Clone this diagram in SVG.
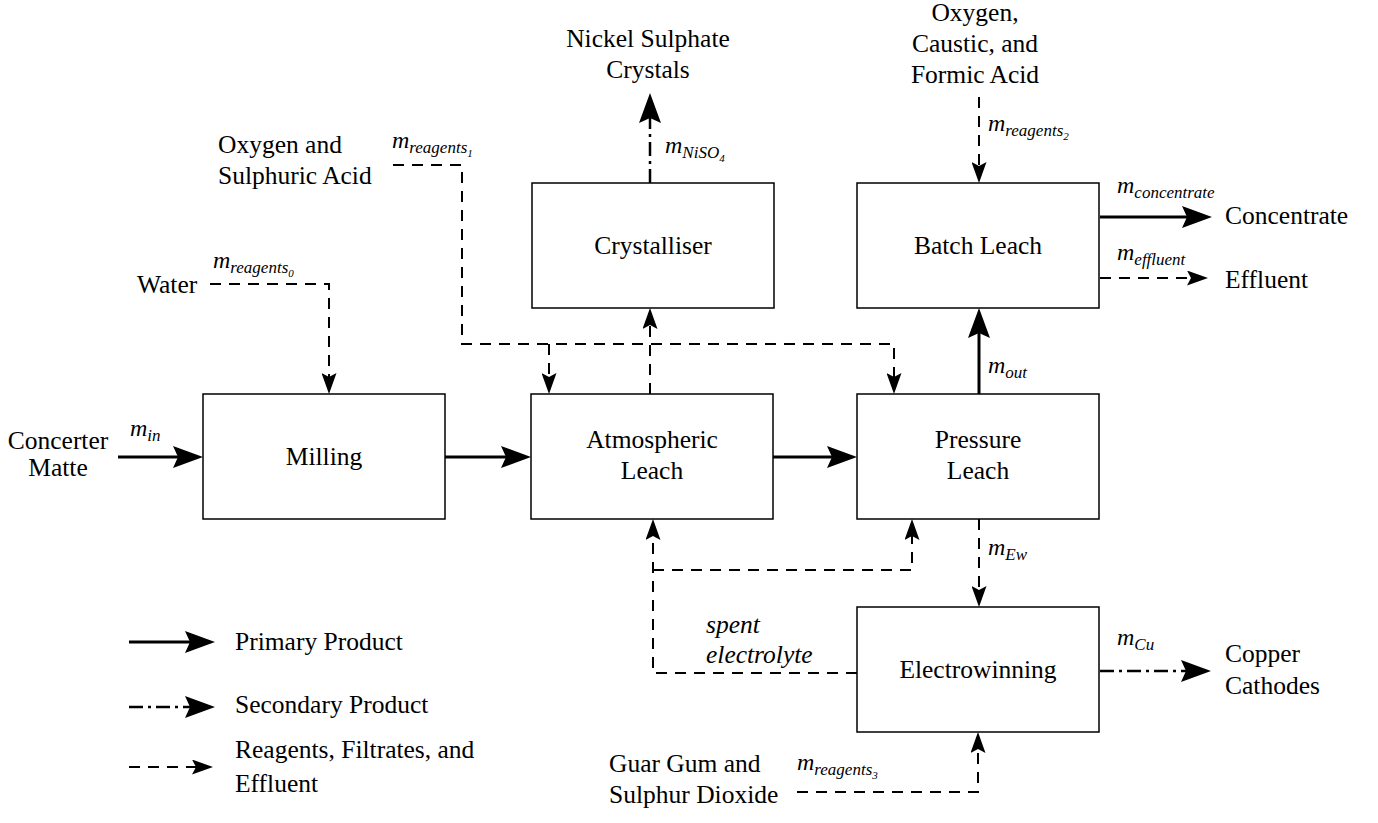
<svg xmlns="http://www.w3.org/2000/svg" width="1378" height="823" viewBox="0 0 1378 823" font-family="'Liberation Serif', 'DejaVu Serif', serif">
<defs>
<style>
text{font-family:'Liberation Serif','DejaVu Serif',serif;fill:#000}
.t{font-size:25.5px}
.c{text-anchor:middle}
.m{font-size:24px;font-style:italic}
.s{font-size:17px}
.ss{font-size:11px}
.box{fill:#fff;stroke:#000;stroke-width:1.5}
.p{fill:none;stroke:#000;stroke-width:3}
.sd{fill:none;stroke:#000;stroke-width:2.5;stroke-dasharray:14 5 3 5}
.d{fill:none;stroke:#000;stroke-width:2;stroke-dasharray:11 8}
</style>
<marker id="ah" markerUnits="userSpaceOnUse" viewBox="0 0 30 22" refX="5" refY="11" markerWidth="30" markerHeight="22" orient="auto">
<path d="M0,0 L30,11 L0,22 L5,11 Z" fill="#000"/>
</marker>
<marker id="ahs" markerUnits="userSpaceOnUse" viewBox="0 0 21 15" refX="4" refY="7.5" markerWidth="21" markerHeight="15" orient="auto">
<path d="M0,0 L21,7.5 L0,15 L4,7.5 Z" fill="#000"/>
</marker>
</defs>
<rect width="1378" height="823" fill="#fff"/>

<g id="connectors">
<path class="p" d="M118,457 H178" marker-end="url(#ah)"/>
<path class="p" d="M445,457 H506" marker-end="url(#ah)"/>
<path class="p" d="M773,457 H832" marker-end="url(#ah)"/>
<path class="p" d="M979,394 V333" marker-end="url(#ah)"/>
<path class="p" d="M1100,217 H1187" marker-end="url(#ah)"/>
<path class="sd" d="M650,183 V118" marker-end="url(#ah)"/>
<path class="sd" d="M1100,671 H1186" marker-end="url(#ah)"/>
<path class="d" d="M210,284 H329 V377" marker-end="url(#ahs)"/>
<path class="d" d="M393,165 H462 V344 H894 V377" marker-end="url(#ahs)"/>
<path class="d" d="M549,344 V377" marker-end="url(#ahs)"/>
<path class="d" d="M650,394 V325" marker-end="url(#ahs)"/>
<path class="d" d="M979,97 V166" marker-end="url(#ahs)"/>
<path class="d" d="M1100,278 H1191" marker-end="url(#ahs)"/>
<path class="d" d="M979,519 V590" marker-end="url(#ahs)"/>
<path class="d" d="M857,673 H653 V536" marker-end="url(#ahs)"/>
<path class="d" d="M653,570 H912 V536" marker-end="url(#ahs)"/>
<path class="d" d="M797,792 H978 V749" marker-end="url(#ahs)"/>
</g>

<g id="milling"><rect class="box" x="203" y="394" width="242" height="125"/><text class="t c" x="324" y="465">Milling</text></g>
<g id="atmospheric-leach"><rect class="box" x="531" y="394" width="242" height="125"/><text class="t c" x="652" y="448">Atmospheric</text><text class="t c" x="652" y="479">Leach</text></g>
<g id="pressure-leach"><rect class="box" x="857" y="394" width="242" height="125"/><text class="t c" x="978" y="448">Pressure</text><text class="t c" x="978" y="479">Leach</text></g>
<g id="crystalliser"><rect class="box" x="532" y="183" width="242" height="125"/><text class="t c" x="653" y="254">Crystalliser</text></g>
<g id="batch-leach"><rect class="box" x="857" y="183" width="242" height="125"/><text class="t c" x="978" y="254">Batch Leach</text></g>
<g id="electrowinning"><rect class="box" x="857" y="607" width="242" height="125"/><text class="t c" x="978" y="678">Electrowinning</text></g>

<g id="labels">
<text class="t c" x="58" y="449">Concerter</text>
<text class="t c" x="58" y="476">Matte</text>
<text class="t" x="137" y="293">Water</text>
<text class="t" x="218" y="153">Oxygen and</text>
<text class="t" x="218" y="184">Sulphuric Acid</text>
<text class="t c" x="648" y="47">Nickel Sulphate</text>
<text class="t c" x="648" y="78">Crystals</text>
<text class="t c" x="975" y="21">Oxygen,</text>
<text class="t c" x="975" y="52">Caustic, and</text>
<text class="t c" x="975" y="83">Formic Acid</text>
<text class="t" x="1225" y="224">Concentrate</text>
<text class="t" x="1225" y="288">Effluent</text>
<text class="t" x="1225" y="662">Copper</text>
<text class="t" x="1225" y="694">Cathodes</text>
<text class="t" x="609" y="772">Guar Gum and</text>
<text class="t" x="609" y="803">Sulphur Dioxide</text>
<text class="t" x="706" y="633" font-style="italic">spent</text>
<text class="t" x="706" y="663" font-style="italic">electrolyte</text>

<text class="m" x="130" y="436">m<tspan class="s" dy="5">in</tspan></text>
<text class="m" x="213" y="268">m<tspan class="s" dy="5">reagents</tspan><tspan class="ss" dy="4">0</tspan></text>
<text class="m" x="392" y="148">m<tspan class="s" dy="5">reagents</tspan><tspan class="ss" dy="4">1</tspan></text>
<text class="m" x="665" y="153">m<tspan class="s" dy="5">NiSO</tspan><tspan class="ss" dy="4">4</tspan></text>
<text class="m" x="988" y="131">m<tspan class="s" dy="5">reagents</tspan><tspan class="ss" dy="4">2</tspan></text>
<text class="m" x="1117" y="193">m<tspan class="s" dy="5">concentrate</tspan></text>
<text class="m" x="1117" y="260">m<tspan class="s" dy="5">effluent</tspan></text>
<text class="m" x="988" y="373">m<tspan class="s" dy="5">out</tspan></text>
<text class="m" x="988" y="555">m<tspan class="s" dy="5">Ew</tspan></text>
<text class="m" x="1117" y="645">m<tspan class="s" dy="5">Cu</tspan></text>
<text class="m" x="797" y="770">m<tspan class="s" dy="5">reagents</tspan><tspan class="ss" dy="4">3</tspan></text>
</g>

<g id="legend">
<path class="p" d="M129,642 H190" marker-end="url(#ah)"/>
<path class="sd" d="M129,707 H190" marker-end="url(#ah)"/>
<path class="d" d="M129,767 H196" marker-end="url(#ahs)"/>
<text class="t" x="235" y="650">Primary Product</text>
<text class="t" x="235" y="713">Secondary Product</text>
<text class="t" x="235" y="758">Reagents, Filtrates, and</text>
<text class="t" x="235" y="792">Effluent</text>
</g>
</svg>
